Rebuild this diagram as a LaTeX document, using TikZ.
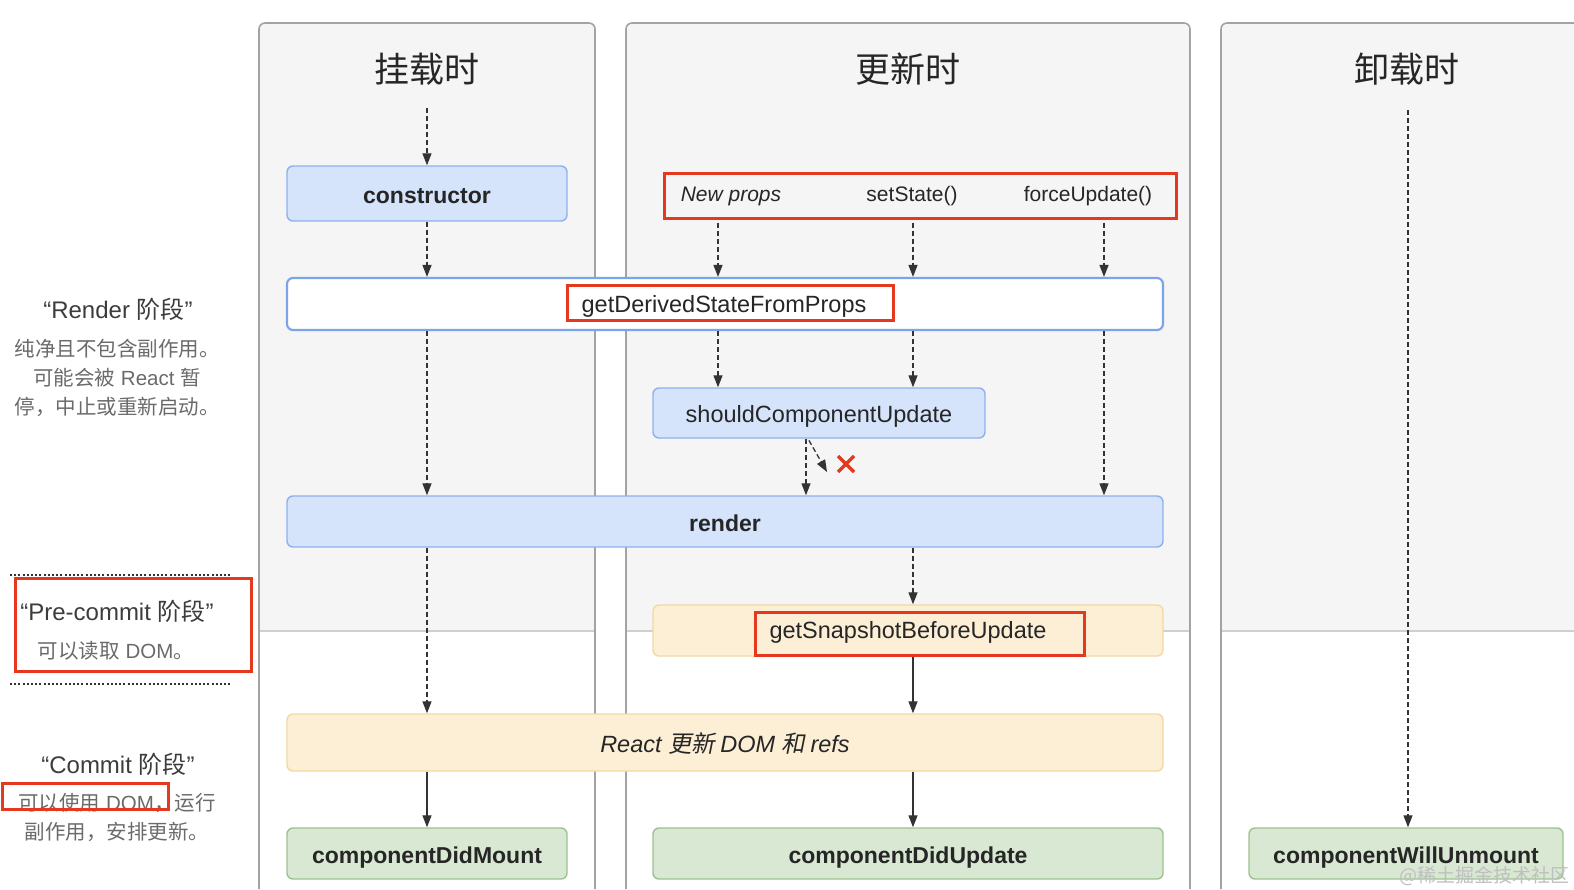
\documentclass[tikz,border=0pt]{standalone}
\usepackage{fontspec}
\setmainfont{Liberation Sans}
\newfontfamily\cjkfont{Noto Sans CJK SC}
\newfontfamily\cjkslant[FakeSlant=0.2]{Noto Sans CJK SC}
\usetikzlibrary{arrows.meta, positioning, calc}

\definecolor{panelbg}{HTML}{F5F5F5}
\definecolor{panelline}{HTML}{A3A3A3}
\definecolor{divline}{HTML}{CFCFCF}
\definecolor{bluefill}{HTML}{D5E3FB}
\definecolor{blueline}{HTML}{8EB0EE}
\definecolor{whiteline}{HTML}{7CA4EA}
\definecolor{yelfill}{HTML}{FCEFD6}
\definecolor{yelline}{HTML}{F0DAA2}
\definecolor{grnfill}{HTML}{D8E8D2}
\definecolor{grnline}{HTML}{9DC28F}
\definecolor{redc}{HTML}{E5391F}
\definecolor{txtdark}{HTML}{262626}
\definecolor{txtgray}{HTML}{6A6A6A}
\definecolor{arrowc}{HTML}{333333}

\newcommand\mfont{\fontsize{23.5}{28}\selectfont}
\newcommand\bfont{\fontsize{23}{28}\selectfont\bfseries}
\newcommand\tfont{\fontsize{21}{26}\selectfont}
\newcommand\lfont{\fontsize{20.5}{29}\selectfont}
\newcommand\zhtext[1]{{\cjkfont #1}}

\begin{document}
\begin{tikzpicture}[x=1pt, y=-1pt,
    >={Triangle[length=12pt,width=9pt]},
    box/.style={draw, rounded corners=6pt, line width=1.4pt, inner sep=0pt, text=txtdark,
      text height=21pt, text depth=2pt},
    bluebox/.style={box, draw=blueline, fill=bluefill},
    yelbox/.style={box, draw=yelline, fill=yelfill},
    grnbox/.style={box, draw=grnline, fill=grnfill, font=\bfont},
    redbox/.style={draw=redc, line width=3pt, inner sep=0pt},
    flow/.style={->, line width=1.3pt, draw=arrowc},
    dashflow/.style={flow, dash pattern=on 5pt off 3pt},
    sidetitle/.style={font=\fontsize{24}{28}\selectfont, text=txtdark!90},
    sidebody/.style={font=\lfont, text=txtgray, align=center},
  ]
  \useasboundingbox (0,0) rectangle (1574,889);

  % --- Panels ---
  \foreach \xl/\xr/\ttl/\nm in {259/595/挂载时/mount, 626/1190/更新时/update, 1221/1592/卸载时/unmount}{
    \fill[panelbg, rounded corners=6pt] (\xl,23) rectangle (\xr,889);
    \fill[white] (\xl,631) rectangle (\xr,889);
    \draw[divline, line width=1.3pt] (\xl,631) -- (\xr,631);
    \draw[panelline, line width=1.6pt, rounded corners=6pt] (\xl,889) -- (\xl,23) -- (\xr,23) -- (\xr,889);
    \node[font=\cjkfont\fontsize{35}{40}\selectfont, text=txtdark] (\nm) at ({(\xl+\xr)/2},69) {\ttl};
  }

  % --- Lanes ---
  \coordinate (laneM) at (427,0);
  \coordinate (laneA) at (718,0);
  \coordinate (laneB) at (913,0);
  \coordinate (laneC) at (1104,0);
  \coordinate (laneS) at (806,0);
  \coordinate (laneU) at (1408,0);

  % --- Render phase ---
  \node[bluebox, font=\bfont, minimum width=280pt, minimum height=55pt] (constr) at (427,193.5) {constructor};
  \node[redbox, minimum width=512pt, minimum height=45pt] (trig) at (920,195.5) {};
  \node[font=\tfont\itshape, text=txtdark] (newprops) at (731,196) {New props};
  \node[font=\tfont, text=txtdark] (setstate) at (912,196) {setState()};
  \node[font=\tfont, text=txtdark] (forceupd) at (1088,196) {forceUpdate()};

  \node[box, draw=whiteline, fill=white, line width=2.2pt, minimum width=876pt, minimum height=52pt] (gdsfp) at (725,304) {};
  \node[redbox, minimum width=326pt, minimum height=35pt] (gdsfphl) at (730,302.5) {};
  \node[font=\mfont, text=txtdark] (gdsfptxt) at (724,306) {getDerivedStateFromProps};

  \node[bluebox, font=\mfont, minimum width=332pt, minimum height=50pt] (scu) at (819,413) {shouldComponentUpdate};
  \node[bluebox, font=\bfont, minimum width=876pt, minimum height=51pt] (render) at (725,521.5) {render};

  % --- Pre-commit / commit ---
  \node[yelbox, minimum width=510pt, minimum height=51pt] (gsbu) at (908,630.5) {};
  \node[redbox, minimum width=329pt, minimum height=43pt] (gsbuhl) at (919.5,633.5) {};
  \node[font=\mfont, text=txtdark] (gsbutxt) at (908,632) {getSnapshotBeforeUpdate};
  \node[yelbox, font=\mfont, minimum width=876pt, minimum height=57pt] (domup) at (725,742.5)
    {\itshape React \cjkslant 更新 \normalfont\itshape DOM \cjkslant 和 \normalfont\itshape refs};

  \node[grnbox, minimum width=280pt, minimum height=51pt] (cdm) at (427,853.5) {componentDidMount};
  \node[grnbox, minimum width=510pt, minimum height=51pt] (cdu) at (908,853.5) {componentDidUpdate};
  \node[grnbox, minimum width=314pt, minimum height=51pt] (cwu) at (1406,853.5) {componentWillUnmount};

  % --- Arrows, mounting ---
  \coordinate (mstart) at (427,108);
  \draw[dashflow] (mstart) -- (constr.north);
  \draw[dashflow] (constr.south) -- (gdsfp.north -| laneM);
  \draw[dashflow] (gdsfp.south -| laneM) -- (render.north -| laneM);
  \draw[dashflow] (render.south -| laneM) -- (domup.north -| laneM);
  \draw[flow] (domup.south -| laneM) -- (cdm.north);

  % --- Arrows, updating ---
  \foreach \ln in {laneA, laneB, laneC}
    \draw[dashflow, shorten <=3pt] (trig.south -| \ln) -- (gdsfp.north -| \ln);
  \draw[dashflow] (gdsfp.south -| laneA) -- (scu.north -| laneA);
  \draw[dashflow] (gdsfp.south -| laneB) -- (scu.north -| laneB);
  \draw[dashflow] (gdsfp.south -| laneC) -- (render.north -| laneC);
  \draw[dashflow] (scu.south -| laneS) -- (render.north -| laneS);
  \coordinate (skip) at (827,472);
  \draw[dashflow, shorten <=2pt] ($(scu.south -| laneS)+(2,0)$) -- (skip);
  \draw[redc, line width=3.5pt] (838,456) -- (854,472) (854,456) -- (838,472);
  \draw[dashflow] (render.south -| laneB) -- (gsbu.north -| laneB);
  \draw[flow] (gsbu.south -| laneB) -- (domup.north -| laneB);
  \draw[flow] (domup.south -| laneB) -- (cdu.north -| laneB);

  % --- Arrows, unmounting ---
  \coordinate (ustart) at (1408,110);
  \draw[dashflow] (ustart) -- (cwu.north -| laneU);

  % --- Phase labels ---
  \node[sidetitle] (rtitle) at (118,309) {“Render \zhtext{阶段}”};
  \node[sidebody] (rdesc) at (117,378) {\zhtext{纯净且不包含副作用。}\\\zhtext{可能会被} React \zhtext{暂}\\\zhtext{停，中止或重新启动。}};

  \draw[arrowc, line width=2.5pt, dash pattern=on 2pt off 2.2pt] (10,575) -- (230,575);
  \draw[arrowc, line width=2.5pt, dash pattern=on 2pt off 2.2pt] (10,684) -- (230,684);
  \node[sidetitle] (ptitle) at (117,611) {“Pre-commit \zhtext{阶段}”};
  \node[sidebody] (pdesc) at (116,651) {\zhtext{可以读取} DOM\zhtext{。}};
  \node[redbox, minimum width=236pt, minimum height=93pt] (phl) at (133,624.5) {};

  \node[sidetitle] (ctitle) at (118,764) {“Commit \zhtext{阶段}”};
  \node[sidebody] (cdesc) at (117,817.5) {\zhtext{可以使用} DOM\zhtext{，运行}\\\zhtext{副作用，安排更新。}};
  \node[redbox, minimum width=166pt, minimum height=26pt] (chl) at (85,796) {};

  % --- watermark ---
  \node[anchor=east, font=\cjkfont\fontsize{19}{22}\selectfont, text=black!25] (wm) at (1573,876) {@稀土掘金技术社区};
\end{tikzpicture}
\end{document}
